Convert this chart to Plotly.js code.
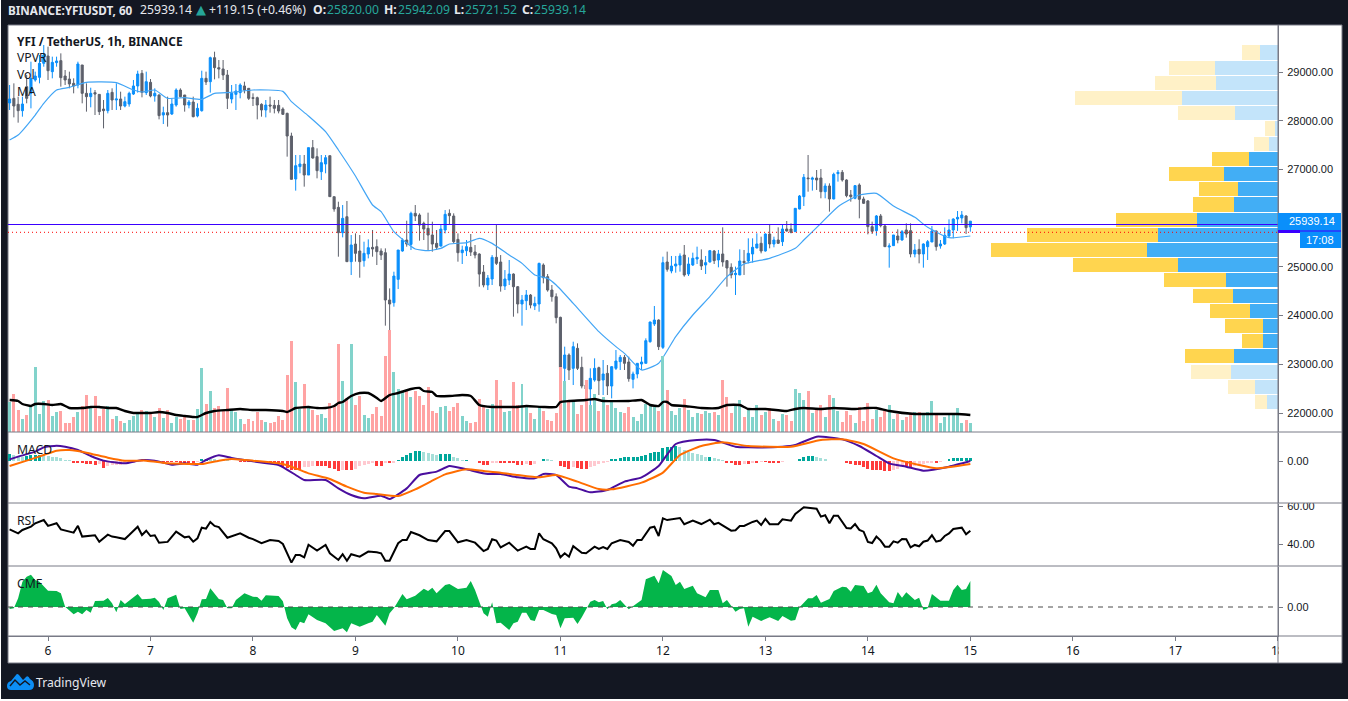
<!DOCTYPE html>
<html>
<head>
<meta charset="utf-8">
<script src="https://cdn.plot.ly/plotly-3.0.1.min.js"></script>
<style>
  html, body { margin: 0; padding: 0; background: #fff; overflow: hidden; }
  #chart { position: absolute; left: 1px; top: 0; width: 1347px; height: 699px; }
  #logo { position: absolute; left: 7px; top: 673px; }
</style>
</head>
<body>
<div id="chart"></div>
<svg id="logo" width="27" height="18" viewBox="0 0 27 18">
  <path fill="#0c8ef5" d="M0 13 Q0 9 4 8 L9 2 Q10 0 12 2 L16 7 L19 4 Q21 2 23 6 Q27 8 27 12 Q27 17 22 17 L4 17 Q0 17 0 13z"/>
  <path fill="none" stroke="#131722" stroke-width="1.4" d="M3 13 L8 7 L13 12 L18 8 L23 12"/>
</svg>
<script>
// hourly candles, bar 0 is the first one on screen, bar 9 is day 6 00:00
const opens = [
  28365,28460,28337,28207,28700,28563,28837,28891,29179,29329,
  29008,29193,29234,28919,28857,28768,28734,29145,28563,28495,
  28577,28542,28241,28207,28583,28426,28447,28303,28344,28549,
  28714,28974,28577,28789,28508,28529,28118,28166,28139,28323,
  28631,28529,28323,28385,28098,28207,28871,28802,29295,29090,
  29063,28939,28447,28542,28577,28714,28666,28474,28474,28337,
  28221,28323,28316,28316,28241,28152,27687,26804,27058,27112,
  26886,27448,27263,26955,27112,27283,26441,26222,25702,26030,
  25107,25469,25326,25127,25264,25401,25415,25326,25291,24320,
  24265,24744,25326,25551,25462,26099,26065,25894,25791,25654,
  25483,25428,25757,26099,26044,25565,25291,25332,25401,25305,
  25264,24894,24628,24751,25196,25100,24607,24730,24853,24593,
  24238,24306,24422,24197,24238,25038,24799,24525,24388,23964,
  22917,23191,22917,23328,22937,22575,22493,22677,22931,22677,
  22814,22554,22917,23054,23143,23047,22691,22801,23006,23020,
  23464,23827,23909,23348,25100,24916,25018,25039,25244,24854,
  25039,25162,25142,25039,25101,25326,25142,25265,25128,24991,
  24841,24834,25114,25121,25265,25388,25484,25326,25675,25470,
  25552,25518,25778,25778,25723,26188,26442,26825,26798,26825,
  26825,26544,26661,26394,26914,26941,26784,26476,26408,26681,
  26394,26353,25826,25744,26045,25840,25408,25436,25634,25552,
  25757,25744,25265,25360,25265,25415,25511,25737,25429,25470,
  25634,25757,25983,26004,26045,25820
];
const highs = [
  28734,28768,28495,28495,28939,29213,29008,29350,29555,29521,
  29316,29316,29384,29042,29008,28871,29213,29145,28768,28679,
  28631,28542,28426,28631,28666,28768,28597,28495,28597,28837,
  29028,29042,29008,28857,28666,28542,28289,28495,28460,28666,
  28666,28529,28426,28495,28358,29028,29008,29316,29418,29247,
  29247,29042,28734,28755,28768,28802,28666,28563,28495,28358,
  28426,28495,28426,28426,28276,28166,27755,27297,27297,27297,
  27448,27605,27434,27297,27297,27283,26441,26338,26270,26352,
  25654,25688,25654,25517,25565,25757,25565,25380,25380,24559,
  24901,25346,25586,25948,26133,26270,26099,25928,26113,25928,
  25757,25880,26167,26181,26099,25688,25435,25551,25675,25449,
  25278,25038,24833,25243,25859,25243,24935,25141,24867,24607,
  24422,24525,24443,24388,25086,25072,24853,24628,24456,23977,
  23362,23225,23464,23430,23156,22677,22917,23122,22951,23088,
  22985,22965,23293,23191,23191,23156,22849,23020,23156,23533,
  23875,24197,23923,25209,25313,25224,25224,25278,25449,25196,
  25292,25415,25360,25224,25347,25347,25347,25812,25142,25073,
  25005,25360,25347,25586,25586,25689,25620,25689,25881,25620,
  25812,25874,25942,25894,26202,26476,26907,27297,26852,26989,
  27010,26715,26715,26934,26989,26989,26798,26579,26681,26715,
  26442,26373,25929,26065,26086,25860,25484,25655,25771,25757,
  25894,25894,25470,25566,25484,25552,25840,25744,25552,25812,
  25976,25997,26147,26147,26059,25942
];
const lows = [
  28221,28070,27961,28084,28358,28255,28802,28768,29110,28837,
  28871,29110,28700,28734,28666,28563,28666,28358,28187,28276,
  28118,28118,27844,28152,28221,28221,28221,28276,28289,28529,
  28577,28481,28529,28481,28392,28029,27933,27879,28118,28289,
  28481,28187,28255,28070,28070,28187,28734,28577,28850,28871,
  28837,28241,28358,28221,28460,28563,28426,28303,28029,28084,
  28070,28166,28152,28152,28118,27263,26797,26565,26921,26647,
  26886,27222,26818,26784,26921,26442,26133,25209,25606,25107,
  24833,25107,24778,25004,25175,25209,25038,25141,23793,23485,
  24183,24545,25312,25415,25346,25941,25538,25551,25346,25312,
  25346,25415,25688,25859,25483,25107,25059,25223,25223,25175,
  24593,24580,24525,24628,25038,24491,24525,24628,23977,24046,
  23793,24114,24149,24114,24080,24662,24491,24286,23841,22472,
  22575,22677,22575,22883,22506,22062,22027,22643,22369,22369,
  22369,22301,22883,22883,22883,22643,22506,22712,22883,23020,
  23444,23786,23293,23314,24902,24868,24881,24902,24799,24813,
  25018,25059,24936,24854,25087,25059,24991,25005,24594,24765,
  24423,24834,24834,25073,25087,25381,25278,25313,25381,25402,
  25470,25429,25723,25689,25723,26182,26250,26544,26565,26579,
  26408,26408,26134,26387,26750,26750,26428,26339,26387,25997,
  26291,25668,25675,25641,25812,25415,24984,25429,25484,25538,
  25600,25196,25196,25073,24984,25142,25511,25333,25374,25449,
  25607,25586,25737,25894,25675,25722
];
const closes = [
  28447,28303,28207,28344,28460,28871,28919,29179,29350,29028,
  29199,29227,28885,28837,28755,28714,29165,28563,28495,28563,
  28549,28187,28207,28563,28426,28447,28303,28392,28563,28714,
  28960,28583,28802,28508,28563,28105,28166,28118,28344,28631,
  28495,28323,28385,28084,28255,28871,28796,29295,29090,29063,
  28939,28460,28563,28611,28734,28631,28460,28460,28323,28221,
  28323,28303,28255,28200,28132,27687,26797,27078,27112,26886,
  27448,27235,26975,27140,27242,26442,26188,25702,25996,25107,
  25449,25278,25107,25278,25394,25367,25312,25243,24320,24238,
  24812,25346,25551,25469,26099,26044,25859,25777,25654,25469,
  25401,25777,26078,26051,25517,25291,25346,25415,25305,25243,
  24853,24628,24771,25196,25072,24607,24751,24853,24593,24238,
  24320,24422,24217,24251,25072,24778,24525,24388,23957,22937,
  23191,22883,23362,22917,22554,22493,22712,22917,22664,22801,
  22554,22951,23067,23143,23020,22705,22801,23020,23047,23485,
  23868,23909,23362,25086,24950,25018,25059,25224,24834,25059,
  25176,25196,25018,25087,25333,25128,25265,25101,24977,24834,
  24868,25121,25087,25278,25402,25470,25326,25675,25470,25552,
  25484,25778,25737,25709,26202,26455,26839,26811,26825,26784,
  26544,26661,26394,26900,26941,26784,26462,26442,26668,26387,
  26305,25826,25730,26045,25846,25415,25429,25655,25552,25723,
  25675,25265,25347,25265,25470,25518,25737,25415,25470,25648,
  25757,25983,26017,26065,25805,25939
];
const volumes = [
  30,38,22,13,17,25,65,18,31,32,
  16,20,21,9,9,15,20,26,37,25,
  36,16,23,26,13,16,11,9,12,16,
  18,22,21,18,15,24,14,22,9,15,
  13,16,12,12,23,64,28,41,24,26,
  21,44,22,20,13,8,13,11,20,12,
  10,9,10,16,12,57,91,50,23,48,
  24,22,17,18,14,29,25,88,51,34,
  88,27,36,17,14,18,25,16,76,102,
  60,43,40,41,35,41,36,27,45,21,
  19,25,26,21,25,29,16,11,9,10,
  33,27,23,28,52,32,20,21,50,27,
  48,26,19,13,25,21,12,11,19,65,
  51,32,32,18,27,52,27,38,21,35,
  27,32,24,20,19,25,15,11,18,28,
  26,25,21,76,42,21,17,24,33,22,
  15,19,18,21,19,20,17,52,35,19,
  26,32,15,23,15,27,17,20,24,13,
  11,18,17,11,43,39,32,41,19,22,
  27,15,37,34,21,10,21,17,9,25,
  11,29,13,22,15,21,27,13,18,12,
  15,19,20,20,18,20,31,18,9,15,
  17,17,24,9,12,9
];
const histogram = [
  140,113,100,73,100,113,113,120,113,100,
  87,73,53,20,13,-33,-33,-47,-53,-67,
  -73,-67,-133,-93,-87,-80,-73,-67,-47,-33,
  -20,-13,-7,-7,-7,-13,-20,-27,-27,-27,
  -33,-33,-40,-47,-27,33,47,40,33,27,
  20,13,7,-7,-13,-13,-13,-20,-27,-20,
  -20,-20,-27,-33,-113,-147,-180,-180,-180,-127,
  -113,-93,-93,-100,-100,-147,-167,-193,-180,-180,
  -180,-167,-100,-80,-67,-47,-93,-93,-47,-47,
  -33,20,73,113,153,200,200,180,153,140,
  120,133,140,140,87,53,20,20,7,-3,
  -47,-73,-73,-47,-33,-47,-47,-47,-47,-80,
  -80,-67,-80,-67,7,40,33,20,-3,-100,
  -127,-167,-127,-147,-153,-153,-113,-93,-67,-47,
  -20,33,40,67,87,87,87,87,100,113,
  153,173,187,253,287,287,300,273,220,187,
  153,140,120,87,87,53,40,20,-47,-47,
  -80,-80,-67,-67,-47,-47,-27,-27,-33,-33,
  -33,-13,-3,-3,7,33,73,100,107,87,
  60,40,7,7,7,7,-47,-60,-73,-87,
  -127,-167,-180,-180,-180,-193,-193,-180,-167,-100,
  -100,-113,-100,-80,-60,-47,-33,-33,-27,7,
  33,53,60,60,60,60
];

// lines read at their visible corners: bar number, then value
const maBars = [0,2,6,8,11,14,18,25,29,31,34,37,41,45,48,52,57,64,66,70,74,77,81,85,87,90,92,95,98,101,103,107,110,113,117,120,123,126,128,132,138,142,144,148,152,156,160,164,168,172,178,184,186,190,194,199,203,207,212,215,220,225];
const maValues = [27605,27708,28118,28358,28631,28686,28789,28782,28631,28590,28631,28460,28474,28440,28563,28583,28631,28604,28392,28098,27776,27400,26865,26270,26133,25722,25565,25367,25332,25380,25469,25497,25586,25483,25243,25072,24833,24764,24628,24251,23670,23362,23225,22883,23020,23568,24012,24389,24799,25059,25176,25381,25552,25894,26236,26476,26510,26250,26017,25812,25600,25634];

const volMaBars = [0,2,3,5,6,8,10,12,14,17,19,21,23,25,27,29,31,33,35,37,39,41,43,44,46,48,51,54,57,60,64,65,67,70,72,74,76,77,78,80,82,84,86,87,89,91,94,96,97,99,100,103,106,108,110,113,116,119,121,125,128,129,131,135,137,139,145,148,150,152,153,154,155,158,162,166,168,171,173,177,182,184,186,190,193,198,201,203,206,212,215,219,222,225];
const volMaValues = [32,31,28,26,28,28,27,28,24,24,25,25,24,24,21,19,19,19,20,19,17,16,15,15,19,21,22,23,22,22,21,20,24,25,24,24,26,29,30,36,39,39,34,31,37,39,43,44,41,40,36,36,37,36,27,25,25,25,26,25,25,30,31,32,33,31,31,32,27,26,30,30,27,26,24,24,27,27,23,23,21,23,24,23,24,23,24,24,21,18,18,18,18,17];

const macdBars = [0,2,6,8,11,13,16,19,22,27,31,34,38,41,44,46,49,52,58,63,67,69,74,77,80,83,87,89,93,96,100,103,107,112,115,119,123,125,128,131,133,136,140,144,148,152,156,161,165,170,173,181,184,189,195,199,203,206,210,214,220,225];
const macdValues = [33,87,187,273,307,287,220,100,7,-47,20,7,-73,-47,-73,20,113,60,-20,-80,-280,-380,-380,-547,-680,-747,-693,-760,-547,-280,-213,-100,-167,-260,-260,-327,-347,-260,-280,-513,-547,-627,-580,-413,-327,-100,340,420,420,287,273,287,320,487,433,300,100,-47,-113,-193,-113,0];
const signalBars = [0,4,8,11,14,18,23,27,32,37,42,45,49,52,57,64,67,70,75,79,83,86,91,95,99,102,107,111,115,119,124,128,133,138,141,148,153,157,162,167,173,183,190,195,200,207,213,217,225];
const signalValues = [-100,7,120,207,220,167,67,7,7,-47,-60,-60,7,40,7,-60,-147,-247,-360,-513,-633,-660,-700,-567,-393,-267,-167,-200,-233,-280,-327,-280,-413,-560,-567,-433,-233,120,300,373,300,287,420,433,340,53,-80,-147,-60];

const rsiBars = [0,2,3,5,6,8,9,11,12,15,16,17,20,21,23,24,25,27,28,30,31,32,33,34,35,37,39,41,42,43,44,45,46,47,48,49,51,52,54,56,57,59,61,63,64,66,67,68,69,70,72,74,75,77,78,79,80,82,84,86,87,88,89,91,92,93,94,96,98,100,102,103,105,107,109,111,112,113,114,115,117,119,121,122,123,124,125,127,128,129,130,131,132,134,135,137,138,139,140,141,143,145,146,147,148,150,151,152,153,154,157,158,160,162,164,165,166,169,170,171,172,174,175,176,177,178,180,181,183,184,186,189,190,191,192,193,194,196,197,198,199,200,201,202,203,204,205,206,207,208,209,210,211,212,213,214,215,216,217,218,219,220,221,223,224,225];
const rsiValues = [47.7,45.6,47.4,49.1,50.9,52.6,49.5,50.9,47.7,46,49.6,43.9,44.6,41.2,44.9,43.9,43.5,42.6,44.7,49.1,44.7,47,44.2,44.6,40.7,41.1,46.5,43.5,43.9,41.2,43,48.6,48.1,51.6,49.5,48.9,43.3,44.2,45.6,43.3,42.6,40.4,42.1,41.6,40,30.2,34.2,34.2,33,39.6,36.5,39.5,35.1,31.6,34.6,31.2,34.6,33.3,36,35.6,35.1,31.2,31.2,40.4,42.1,42.1,46.3,44.6,42.1,41.4,46.8,46.8,40.9,42.1,40.7,36.3,37.4,42.5,41.8,38.2,40.7,36.5,38.6,37.4,37.4,45.6,42.5,40.4,37.7,33,35.1,33.3,38.9,35.4,35.1,38.6,37.4,38.4,37.4,40.4,42.1,41.1,39.1,42.1,42.1,48.6,49.1,44.2,53.5,52.6,53.7,50.4,52.3,50.5,52.8,50.4,51.1,47,47.2,49.5,49.5,51.6,52.3,50,53.2,50.4,50.4,53,52.3,55.8,59.3,58.6,54.4,55.1,50.9,54.9,54.9,48.4,48.2,50.5,47.4,46.5,41.1,40.5,43.9,41.8,38.6,38.6,41.4,40.7,42.6,42.5,38.2,39.5,38.8,41.2,41.8,44.6,41.2,41.8,44.2,45.6,47.9,48.6,45.1,47];

const cmfBars = [0,1,2,3,4,5,6,7,9,11,12,13,15,16,17,18,19,20,22,23,24,25,26,27,30,31,33,34,35,36,37,39,40,41,43,44,45,46,47,49,50,51,52,53,55,57,58,59,60,63,64,65,66,67,68,69,70,72,74,76,78,79,80,82,84,85,86,88,89,90,92,93,95,97,98,99,100,102,103,105,107,108,109,111,112,113,114,115,117,118,119,120,121,122,123,124,125,127,128,129,130,132,133,134,136,137,138,139,140,141,142,143,145,148,149,151,152,153,155,156,157,158,160,161,163,164,166,167,168,170,171,172,173,174,176,178,180,181,183,184,185,187,188,189,190,192,193,195,196,197,198,200,201,202,203,204,206,207,208,209,210,212,213,214,215,216,218,220,221,222,223,224,225];
const cmfValues = [-0.006,-0.004,0.026,0.076,0.091,0.097,0.081,0.076,0.049,0.048,0.041,0.001,-0.022,-0.014,-0.022,-0.009,-0.017,0.018,0.019,0.027,0.011,-0.016,0.021,0.009,0.039,0.023,0.025,0.028,0.015,-0.009,0.026,0.037,-0.006,-0.004,-0.047,-0.019,0.023,0.024,0.056,0.024,0.021,-0.004,-0.004,0.021,0.041,0.031,0.03,0.019,0.035,0.033,0.017,-0.034,-0.061,-0.069,-0.044,-0.049,-0.022,-0.039,-0.049,-0.072,-0.064,-0.076,-0.049,-0.059,-0.049,-0.044,-0.024,-0.056,-0.019,-0.004,0.039,0.023,0.034,0.055,0.048,0.058,0.041,0.066,0.069,0.054,0.058,0.078,0.051,-0.019,-0.029,0.014,-0.049,-0.047,-0.069,-0.049,-0.044,-0.017,-0.017,-0.039,-0.042,-0.009,-0.009,-0.021,-0.024,-0.064,-0.034,-0.032,-0.051,-0.031,0.016,0.021,0.014,0.018,-0.007,0.008,0.011,0.021,-0.007,0.021,0.083,0.094,0.071,0.111,0.093,0.066,0.076,0.054,0.064,0.041,0.029,0.051,0.051,0.011,0.021,-0.014,-0.006,-0.004,-0.059,-0.029,-0.042,-0.031,-0.042,-0.027,-0.041,-0.039,-0.001,0.026,0.026,0.036,0.013,0.024,0.048,0.061,0.059,0.046,0.066,0.063,0.041,0.046,0.067,0.041,0.014,0.011,0.045,0.028,0.044,0.021,0.028,-0.009,-0.004,0.039,0.019,0.019,0.051,0.067,0.051,0.054,0.078];

// volume profile, top row first
const vpPrices = [29402,29090,28778,28466,28154,27842,27530,27218,26906,26594,26282,25970,25658,25346,25034,24722,24410,24098,23786,23474,23162,22850,22538,22226];
const vpUp = [18,63,62,96,43,3,9,29,54,40,44,81,120,131,100,52,45,28,15,15,44,47,23,11];
const vpDown = [18,46,61,107,57,10,15,37,55,39,41,81,131,156,105,62,40,40,38,21,49,40,27,12];
const vpInValueArea = [0,0,0,0,0,0,0,1,1,1,1,1,1,1,1,1,1,1,1,1,1,0,0,0];

const priceTicks = [22000,23000,24000,25000,27000,28000,29000];
const dayLabels = ['6','7','8','9','10','11','12','13','14','15','16','17','18'];
const dayBars = [9,33,57,81,105,129,153,177,201,225,249,273,297];

const hLevel = 25870, dottedLevel = 25710;

const bars = opens.map((_, i) => i);
const GRID = '#787b86', DARK = '#131722', TEAL = '#26a69a', LIGHT = '#e6e8ee';

// screen pixel -> paper fraction, plot is 8..1278 by 25..636
const xp = px => (px - 8) / 1270;
const yp = py => (636 - py) / 611;

const histColors = histogram.map((h, i) => {
  const prev = i ? histogram[i - 1] : h;
  if (h >= 0) return h >= prev ? '#00a79b' : '#a6dfd9';
  return h <= prev ? '#ff3b3b' : '#ffc9d0';
});

const traces = [
  {
    type: 'bar', x: bars, y: volumes, xaxis: 'x', yaxis: 'y5', width: 0.7,
    marker: { color: opens.map((o, i) => closes[i] >= o ? '#82d3cb' : '#ffa3a3') }
  },
  { type: 'scatter', mode: 'lines', x: volMaBars, y: volMaValues, xaxis: 'x', yaxis: 'y5',
    line: { color: '#000', width: 2.4, shape: 'spline', smoothing: 0.4 } },
  {
    type: 'candlestick', x: bars, open: opens, high: highs, low: lows, close: closes,
    xaxis: 'x', yaxis: 'y', whiskerwidth: 0,
    increasing: { line: { color: '#0a8ffb', width: 1 }, fillcolor: '#0a8ffb' },
    decreasing: { line: { color: '#5d606b', width: 1 }, fillcolor: '#5d606b' }
  },
  { type: 'scatter', mode: 'lines', x: maBars, y: maValues, xaxis: 'x', yaxis: 'y',
    line: { color: '#42a5f5', width: 1.2, shape: 'spline', smoothing: 0.5 } },
  { type: 'bar', orientation: 'h', y: vpPrices, x: vpUp, xaxis: 'x2', yaxis: 'y', width: 290,
    marker: { color: vpInValueArea.map(f => f ? '#42aef5' : '#c3e4fa') } },
  { type: 'bar', orientation: 'h', y: vpPrices, x: vpDown, xaxis: 'x2', yaxis: 'y', width: 290,
    marker: { color: vpInValueArea.map(f => f ? '#ffd54f' : '#fff1c7') } },
  { type: 'bar', x: bars, y: histogram, xaxis: 'x', yaxis: 'y2', width: 0.7,
    marker: { color: histColors } },
  { type: 'scatter', mode: 'lines', x: macdBars, y: macdValues, xaxis: 'x', yaxis: 'y2',
    line: { color: '#4a0e9e', width: 2, shape: 'spline', smoothing: 0.5 } },
  { type: 'scatter', mode: 'lines', x: signalBars, y: signalValues, xaxis: 'x', yaxis: 'y2',
    line: { color: '#ff6d00', width: 2, shape: 'spline', smoothing: 0.5 } },
  { type: 'scatter', mode: 'lines', x: rsiBars, y: rsiValues, xaxis: 'x', yaxis: 'y3',
    line: { color: '#000', width: 2 } },
  { type: 'scatter', mode: 'lines', x: cmfBars, y: cmfValues, xaxis: 'x', yaxis: 'y4',
    fill: 'tozeroy', fillcolor: '#04b54a', line: { color: '#04b54a', width: 0 } }
];

const priceAxisBase = {
  side: 'right', anchor: 'x', showgrid: false, zeroline: false, showline: true,
  linecolor: GRID, linewidth: 1, ticks: 'outside', ticklen: 4, tickcolor: GRID,
  ticklabelstandoff: 2, tickformat: '.2f', tickmode: 'array', fixedrange: true,
  tickfont: { family: 'Liberation Sans', size: 11, color: DARK }
};

const label = (text, px, py, font) => ({
  text: text, xref: 'paper', yref: 'paper', x: xp(px), y: yp(py),
  xanchor: 'left', yanchor: 'middle', showarrow: false, borderpad: 0,
  font: Object.assign({ family: 'Noto Sans', size: 12.2, color: DARK }, font)
});
const tag = (text, px, py) => label(text, px, py, { family: 'Liberation Sans', size: 11, color: '#fff' });
const headerText = (text, px, color, font) => label(text, px, 10, Object.assign({ color: color || LIGHT }, font));

const hline = (py, x0, x1) => ({
  type: 'line', xref: 'paper', yref: 'paper', x0: xp(x0), x1: xp(x1), y0: yp(py), y1: yp(py),
  line: { color: GRID, width: 1 }, layer: 'above'
});
const box = (x0, y0, x1, y1, fill) => ({
  type: 'rect', xref: 'paper', yref: 'paper', x0: xp(x0), x1: xp(x1), y0: yp(y0), y1: yp(y1),
  fillcolor: fill, line: { width: 0 }, layer: 'above'
});

const layout = {
  width: 1347, height: 699,
  margin: { l: 7, r: 70, t: 25, b: 63, pad: 0 },
  paper_bgcolor: DARK, plot_bgcolor: 'rgba(0,0,0,0)',
  showlegend: false, barmode: 'stack', hovermode: false,
  xaxis: {
    domain: [0, 1], range: [-0.375, 297.05], anchor: 'y4', fixedrange: true,
    showgrid: false, zeroline: false, showline: true, linecolor: GRID,
    rangeslider: { visible: false },
    tickmode: 'array', tickvals: dayBars, ticktext: dayLabels,
    ticks: 'outside', ticklen: 4, tickcolor: GRID,
    tickfont: { family: 'Noto Sans', size: 12, color: DARK }
  },
  xaxis2: { overlaying: 'x', anchor: 'y', range: [1270, 0], visible: false, fixedrange: true },
  yaxis: Object.assign({}, priceAxisBase, { domain: [yp(432), 1], range: [21610, 29966], tickvals: priceTicks }),
  yaxis2: Object.assign({}, priceAxisBase, { domain: [yp(503), yp(433)], range: [-840, 560], tickvals: [0] }),
  yaxis3: Object.assign({}, priceAxisBase, { domain: [yp(566), yp(504)], range: [28.42, 61.05], tickvals: [40, 60] }),
  yaxis4: Object.assign({}, priceAxisBase, { domain: [0, yp(567)], range: [-0.087, 0.12], tickvals: [0] }),
  yaxis5: { overlaying: 'y', anchor: 'x', side: 'left', range: [0, 407], visible: false, fixedrange: true },
  shapes: [
    // white chart panel with grey frame
    { type: 'rect', xref: 'paper', yref: 'paper', x0: xp(8), x1: xp(1342), y0: yp(663), y1: yp(25),
      fillcolor: '#fff', line: { color: GRID, width: 1 }, layer: 'below' },
    // zero line of CMF and the two drawn levels
    { type: 'line', xref: 'paper', yref: 'y4', x0: 0, x1: 1, y0: 0, y1: 0,
      line: { color: '#4a4a4a', width: 1, dash: '5px,5px' }, layer: 'above' },
    { type: 'line', xref: 'paper', yref: 'y', x0: 0, x1: 1, y0: hLevel, y1: hLevel,
      line: { color: '#3a00ff', width: 1 }, layer: 'above' },
    { type: 'line', xref: 'paper', yref: 'y', x0: 0, x1: 1, y0: dottedLevel, y1: dottedLevel,
      line: { color: '#ff0000', width: 1, dash: '1px,3px' }, layer: 'above' },
    // cut the 60.00 label and the 18 day label as the panes do
    box(1279, 497, 1341, 503, '#fff'),
    box(1279, 638, 1341, 662, '#fff'),
    hline(432, 8, 1342), hline(503, 8, 1342), hline(566, 8, 1342), hline(636, 8, 1342),
    { type: 'line', xref: 'paper', yref: 'paper', x0: 1, x1: 1, y0: yp(663), y1: 1,
      line: { color: GRID, width: 1 }, layer: 'above' },
    // last price tags
    box(1278, 213, 1341, 231, '#0a8ffb'),
    box(1300, 231, 1341, 248, '#0a8ffb'),
    box(1278, 230, 1300, 233, '#3a00ff'),
    box(1300, 230.5, 1341, 231.5, '#3a00ff')
  ],
  annotations: [
    headerText('<b>BINANCE:YFIUSDT, 60</b>', 7, LIGHT, { size: 11.7 }),
    headerText('25939.14', 139),
    headerText('▲', 195, TEAL, { family: 'DejaVu Sans', size: 13 }),
    headerText('+119.15 (+0.46%)', 208),
    headerText('<b>O:</b>', 312), headerText('25820.00', 326, TEAL),
    headerText('<b>H:</b>', 383), headerText('25942.09', 397, TEAL),
    headerText('<b>L:</b>', 453), headerText('25721.52', 464, TEAL),
    headerText('<b>C:</b>', 521), headerText('25939.14', 533, TEAL),
    label('<b>YFI / TetherUS, 1h, BINANCE</b>', 16, 41, { size: 11.9 }),
    label('VPVR', 16, 58),
    label('Vol', 16, 75),
    label('MA', 16, 92),
    label('MACD', 16, 450),
    label('RSI', 16, 520),
    label('CMF', 16, 583),
    tag('25939.14', 1288, 221),
    tag('17:08', 1305, 239.5),
    label('TradingView', 35, 682, { color: LIGHT })
  ]
};

Plotly.newPlot('chart', traces, layout, { displayModeBar: false, staticPlot: true });
</script>
</body>
</html>
